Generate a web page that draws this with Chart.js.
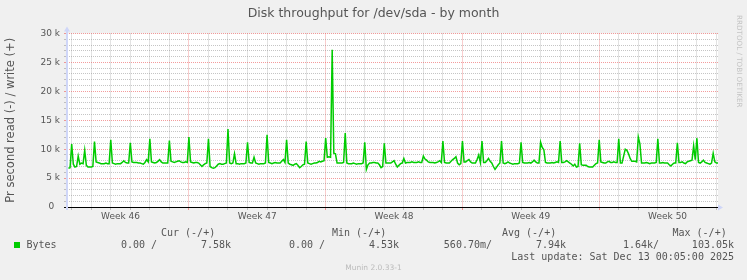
<!DOCTYPE html>
<html>
<head>
<meta charset="utf-8">
<title>Disk throughput for /dev/sda - by month</title>
<script src="https://cdn.jsdelivr.net/npm/chart.js@4.4.0/dist/chart.umd.min.js"></script>
<style>
  html, body { margin: 0; padding: 0; background: #f0f0f0; }
  #wrap { position: relative; width: 747px; height: 280px; }
</style>
</head>
<body>
<div id="wrap"><canvas id="chart"></canvas></div>
<script>
const chartTitle = "Disk throughput for /dev/sda - by month";
const yTitle = "Pr second read (-) / write (+)";
const weekLabels = ["Week 46", "Week 47", "Week 48", "Week 49", "Week 50"];
const weekStarts = [-1, 6, 13, 20, 27];   // day number of each monday
const firstDay = -0.24, lastDay = 33.08;  // visible window, in days
const sampleStart = -1 / 6;               // first sample, days
const sampleStep = 1 / 12;                // one sample every 2 hours

// write throughput, k per second, one row per day
const writeK = [
  6.7, 6.8,
  10.9, 7.4, 6.9, 7.0, 8.8, 7.4, 7.6, 7.5, 9.8, 7.2, 6.9, 6.9,
  6.9, 7.0, 11.3, 7.8, 7.7, 7.6, 7.5, 7.5, 7.5, 7.6, 7.5, 7.5,
  11.6, 7.6, 7.5, 7.4, 7.5, 7.5, 7.5, 7.7, 8.0, 7.7, 7.6, 7.6,
  11.1, 7.8, 7.7, 7.7, 7.7, 7.6, 7.6, 7.5, 7.4, 7.7, 8.2, 7.8,
  11.8, 7.8, 7.7, 7.6, 7.7, 7.9, 8.2, 7.8, 7.6, 7.6, 7.6, 7.6,
  11.5, 7.9, 7.8, 7.7, 7.8, 7.9, 8.0, 7.8, 7.7, 7.7, 7.8, 7.7,
  12.1, 7.8, 7.7, 7.6, 7.7, 7.7, 7.6, 7.3, 7.0, 7.3, 7.5, 7.6,
  11.8, 7.0, 6.8, 6.7, 6.8, 7.1, 7.4, 7.5, 7.4, 7.4, 7.5, 7.6,
  13.5, 7.6, 7.5, 7.6, 9.2, 7.5, 7.5, 7.4, 7.5, 7.5, 7.5, 7.6,
  11.2, 7.7, 7.6, 7.6, 8.6, 7.6, 7.5, 7.4, 7.5, 7.5, 7.5, 7.6,
  12.5, 7.7, 7.6, 7.5, 7.6, 7.7, 7.6, 7.6, 7.6, 7.9, 8.2, 7.7,
  11.6, 7.6, 7.4, 7.3, 7.2, 7.4, 7.5, 7.2, 6.8, 7.0, 7.3, 7.4,
  11.3, 7.6, 7.5, 7.4, 7.5, 7.6, 7.6, 7.7, 7.9, 7.8, 7.9, 8.0,
  11.9, 8.6, 8.7, 8.6, 27.2, 9.3, 9.2, 7.6, 7.6, 7.6, 7.6, 7.7,
  12.8, 7.6, 7.5, 7.5, 7.5, 7.6, 7.5, 7.4, 7.5, 7.5, 7.5, 7.6,
  11.2, 6.5, 7.3, 7.6, 7.6, 7.7, 7.7, 7.6, 7.6, 7.3, 6.8, 7.0,
  11.0, 7.6, 7.6, 7.6, 7.6, 7.8, 8.0, 7.4, 6.9, 7.2, 7.5, 7.6,
  8.4, 7.6, 7.7, 7.7, 7.7, 7.8, 7.7, 7.7, 7.7, 7.8, 7.7, 7.7,
  8.8, 8.3, 8.1, 7.8, 7.7, 7.7, 7.7, 7.6, 7.7, 7.8, 8.0, 7.7,
  11.4, 7.7, 7.6, 7.6, 7.6, 7.9, 8.2, 8.4, 8.7, 7.6, 7.3, 7.5,
  11.4, 7.8, 7.8, 8.0, 8.2, 7.8, 7.6, 7.6, 7.6, 8.2, 9.0, 7.7,
  11.4, 7.7, 7.7, 8.0, 8.4, 7.9, 7.6, 7.0, 6.5, 6.9, 7.3, 7.6,
  11.4, 7.6, 7.5, 7.6, 7.8, 7.6, 7.5, 7.4, 7.5, 7.5, 7.5, 7.6,
  11.2, 7.7, 7.6, 7.6, 7.6, 7.7, 7.6, 7.8, 8.1, 7.8, 7.6, 7.6,
  11.2, 10.3, 9.9, 7.7, 7.6, 7.6, 7.6, 7.7, 7.6, 7.7, 7.8, 7.7,
  11.4, 7.7, 7.7, 7.8, 8.0, 7.8, 7.6, 7.4, 7.1, 7.4, 6.9, 7.0,
  11.0, 7.3, 7.2, 7.2, 7.2, 7.0, 6.9, 6.9, 6.9, 7.2, 7.5, 7.6,
  11.6, 7.8, 7.7, 7.6, 7.6, 7.8, 7.9, 7.7, 7.7, 7.8, 7.7, 7.7,
  11.8, 7.6, 7.6, 8.8, 10.0, 9.8, 9.2, 8.4, 7.9, 7.9, 7.9, 7.8,
  12.1, 10.9, 7.6, 7.6, 7.6, 7.7, 7.6, 7.5, 7.6, 7.6, 7.6, 7.7,
  11.8, 7.6, 7.6, 7.7, 7.6, 7.6, 7.6, 7.3, 7.1, 7.4, 7.6, 7.6,
  11.1, 7.7, 7.7, 7.8, 7.6, 7.5, 7.8, 7.9, 8.0, 8.1, 10.6, 8.2,
  11.9, 7.7, 7.6, 7.8, 8.1, 7.7, 7.6, 7.5, 7.4, 7.6, 9.3, 7.8,
  7.6, 7.6
];

const seriesName = "Bytes";
const legendHead = ["Cur (-/+)", "Min (-/+)", "Avg (-/+)", "Max (-/+)"];
const readCol = ["0.00 /", "0.00 /", "560.70m/", "1.64k/"];
const writeCol = ["7.58k", "4.53k", "7.94k", "103.05k"];
const lastUpdate = "Last update: Sat Dec 13 00:05:00 2025";
const footer = "Munin 2.0.33-1";
const watermark = "RRDTOOL / TOBI OETIKER";

const GREEN = "#00cc00";
const GRID = "rgba(140,140,140,0.5)";
const MGRID = "rgba(235,90,90,0.6)";
const AXIS = "#cfd6f8";
const FONT = "#555555";
const SANS = "'DejaVu Sans', sans-serif";
const MONO = "'DejaVu Sans Mono', monospace";

const points = writeK.map((v, i) => ({ x: sampleStart + i * sampleStep, y: v }));

function xGridColor(v) {
    if (!Number.isInteger(v)) return "rgba(0,0,0,0)";
    return weekStarts.includes(v) ? MGRID : GRID;
}
function yGridColor(v) {
    if (v === 0) return "#000000";
    return v % 5 === 0 ? MGRID : GRID;
}

// plot background, solid axes with arrows, and the munin legend
const decor = {
    id: "decor",
    beforeDraw(chart) {
        const { ctx, chartArea: a } = chart;
        ctx.save();
        ctx.fillStyle = "#ffffff";
        ctx.fillRect(a.left, a.top, a.right - a.left, a.bottom - a.top);
        ctx.restore();
    },
    afterDraw(chart) {
        const { ctx, chartArea: a } = chart;
        ctx.save();
        ctx.fillStyle = AXIS;
        ctx.strokeStyle = AXIS;
        ctx.lineWidth = 2;
        ctx.beginPath();
        ctx.moveTo(a.left, a.top - 3);
        ctx.lineTo(a.left, a.bottom + 3);
        ctx.stroke();
        ctx.beginPath();
        ctx.moveTo(a.left - 3, a.top - 2);
        ctx.lineTo(a.left + 3, a.top - 2);
        ctx.lineTo(a.left, a.top - 7);
        ctx.closePath();
        ctx.fill();
        ctx.beginPath();
        ctx.moveTo(a.right, a.bottom - 2.5);
        ctx.lineTo(a.right, a.bottom + 3.5);
        ctx.lineTo(a.right + 5, a.bottom + 0.5);
        ctx.closePath();
        ctx.fill();
        // zero line
        ctx.strokeStyle = "#000000";
        ctx.lineWidth = 1;
        ctx.beginPath();
        ctx.moveTo(a.left + 1, a.bottom + 0.5);
        ctx.lineTo(a.right, a.bottom + 0.5);
        ctx.stroke();

        ctx.textBaseline = "middle";
        ctx.fillStyle = FONT;
        ctx.font = "10px " + MONO;
        ctx.textAlign = "left";
        [161, 332, 502, 672.5].forEach((x, i) => ctx.fillText(legendHead[i], x, 233.5));
        ctx.fillText(seriesName, 26.5, 245.5);
        ctx.textAlign = "right";
        [157, 325, 492, 659].forEach((x, i) => ctx.fillText(readCol[i], x, 245.5));
        [231, 399, 566, 734].forEach((x, i) => ctx.fillText(writeCol[i], x, 245.5));
        ctx.fillText(lastUpdate, 734, 257.5);
        ctx.fillStyle = GREEN;
        ctx.fillRect(14, 242, 6, 6);

        ctx.fillStyle = "#bbbbbb";
        ctx.font = "7.5px " + SANS;
        ctx.textAlign = "center";
        ctx.fillText(footer, 373.5, 268.5);

        ctx.fillStyle = "#c4c4c4";
        ctx.font = "7.2px " + SANS;
        ctx.textAlign = "left";
        ctx.translate(739, 15);
        ctx.rotate(Math.PI / 2);
        ctx.fillText(watermark, 0, 0);
        ctx.restore();
    }
};

new Chart(document.getElementById("chart"), {
    type: "line",
    data: {
        datasets: [{
            label: seriesName,
            data: points,
            borderColor: GREEN,
            borderWidth: 1.5,
            pointRadius: 0,
            tension: 0,
            fill: false
        }]
    },
    options: {
        responsive: true,
        maintainAspectRatio: false,
        animation: false,
        layout: { padding: 0 },
        plugins: {
            legend: { display: false },
            tooltip: { enabled: false },
            title: {
                display: true,
                text: chartTitle,
                color: FONT,
                font: { family: SANS, size: 12.5, weight: "normal" },
                padding: { top: 6.5, bottom: 12 }
            }
        },
        scales: {
            x: {
                type: "linear",
                min: firstDay,
                max: lastDay,
                afterBuildTicks: s => {
                    const t = [];
                    for (let d = Math.ceil(firstDay); d <= lastDay; d++) t.push({ value: d });
                    weekStarts.forEach(w => t.push({ value: w + 3.5 }));
                    t.sort((p, q) => p.value - q.value);
                    s.ticks = t;
                },
                afterFit: s => { s.height = 73; },
                ticks: {
                    autoSkip: false,
                    maxRotation: 0,
                    padding: 1,
                    color: FONT,
                    font: { family: SANS, size: 9 },
                    callback: v => {
                        const k = weekStarts.findIndex(w => w + 3.5 === v);
                        return k >= 0 ? weekLabels[k] : "";
                    }
                },
                grid: {
                    color: c => xGridColor(c.tick.value),
                    tickColor: c => xGridColor(c.tick.value),
                    tickLength: 3,
                    lineWidth: 1
                },
                border: { display: false, dash: [1, 1] }
            },
            y: {
                type: "linear",
                min: 0,
                max: 30,
                afterBuildTicks: s => {
                    const t = [];
                    for (let v = 0; v <= 30; v++) t.push({ value: v });
                    s.ticks = t;
                },
                afterFit: s => { s.width = 67; },
                ticks: {
                    autoSkip: false,
                    padding: 4,
                    color: FONT,
                    font: { family: SANS, size: 9 },
                    callback: v => v % 5 !== 0 ? "" : (v === 0 ? "0  " : v + " k")
                },
                grid: {
                    color: c => yGridColor(c.tick.value),
                    tickColor: c => yGridColor(c.tick.value),
                    tickLength: 3,
                    lineWidth: 1
                },
                border: { display: false, dash: [1, 1] },
                title: {
                    display: true,
                    text: yTitle,
                    color: FONT,
                    font: { family: SANS, size: 11.5 },
                    padding: { top: 4, bottom: 0 }
                }
            },
            // empty strip on the right that holds the watermark
            side: {
                type: "linear",
                position: "right",
                min: 0,
                max: 1,
                afterFit: s => { s.width = 29; },
                ticks: { display: false },
                grid: { display: false, drawOnChartArea: false },
                border: { display: false }
            }
        }
    },
    plugins: [decor]
});
</script>
</body>
</html>
